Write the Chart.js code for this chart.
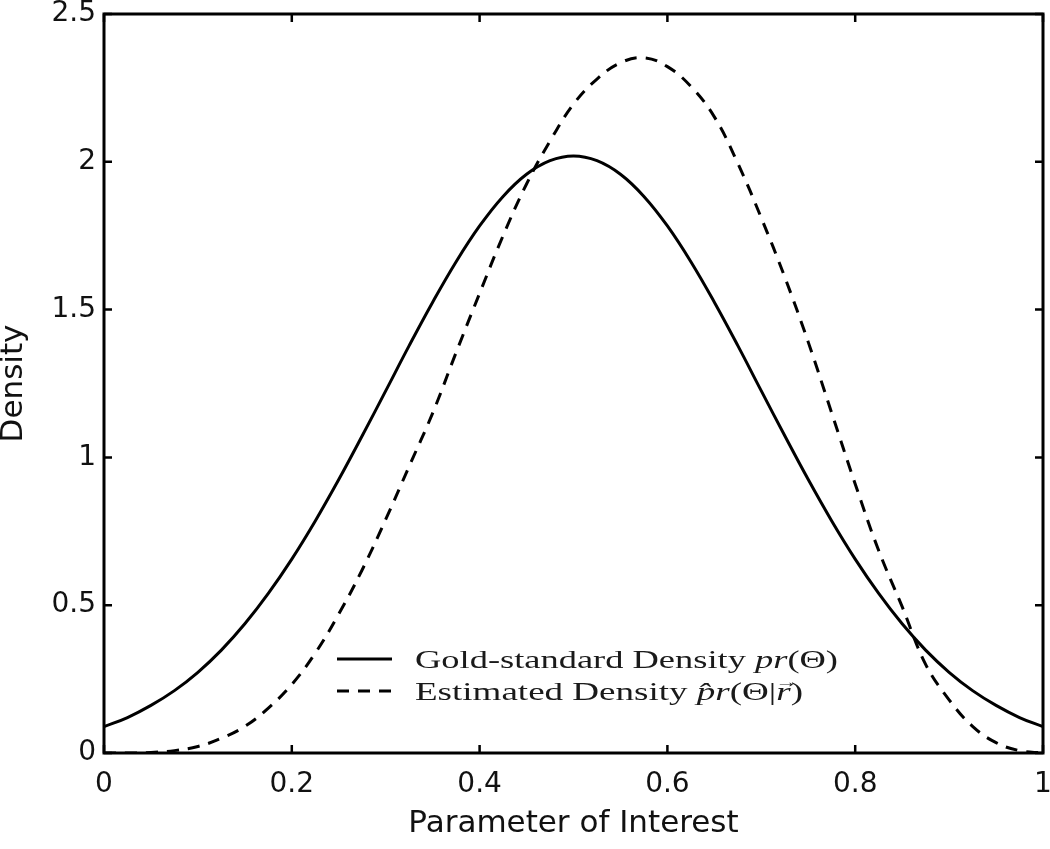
<!DOCTYPE html>
<html>
<head>
<meta charset="utf-8">
<script src="https://cdn.jsdelivr.net/npm/chart.js@4.4.0/dist/chart.umd.min.js"></script>
<style>
  body { margin: 0; background: #fff; }
  canvas { display: block; }
</style>
</head>
<body>
<canvas id="density-chart" width="1050" height="849"></canvas>
<script>
// parameter values (x) shared by both curves
const theta = [0, 0.025, 0.05, 0.075, 0.1, 0.125, 0.15, 0.175, 0.2, 0.225,
  0.25, 0.275, 0.3, 0.325, 0.35, 0.375, 0.4, 0.425, 0.45, 0.475,
  0.5, 0.525, 0.55, 0.575, 0.6, 0.625, 0.65, 0.675, 0.7, 0.725,
  0.75, 0.775, 0.8, 0.825, 0.85, 0.875, 0.9, 0.925, 0.95, 0.975, 1]

// gold-standard density pr(Θ), solid
const goldDensity = [0.089, 0.12, 0.161, 0.211, 0.273, 0.348, 0.437, 0.54, 0.656, 0.785,
  0.925, 1.073, 1.225, 1.378, 1.525, 1.662, 1.783, 1.883, 1.958, 2.004,
  2.02, 2.004, 1.958, 1.883, 1.783, 1.662, 1.525, 1.378, 1.225, 1.073,
  0.925, 0.785, 0.656, 0.54, 0.437, 0.348, 0.273, 0.211, 0.161, 0.12, 0.089]

// estimated density, dashed
const estDensity = [0, 0, 0.002, 0.008, 0.022, 0.05, 0.09, 0.152, 0.232, 0.338,
  0.47, 0.62, 0.79, 0.97, 1.15, 1.355, 1.555, 1.75, 1.925, 2.07,
  2.195, 2.28, 2.335, 2.352, 2.322, 2.255, 2.152, 1.995, 1.81, 1.61,
  1.39, 1.15, 0.91, 0.685, 0.495, 0.30, 0.18, 0.09, 0.035, 0.008, 0]

const xTicks = [0, 0.2, 0.4, 0.6, 0.8, 1]
const yTicks = [0, 0.5, 1, 1.5, 2, 2.5]

const xTitle = 'Parameter of Interest'
const yTitle = 'Density'

const sansFont = 'DejaVu Sans'
const serifFont = 'Liberation Serif'

// legend rows: [text, italic, accent drawn above]
const legendRows = [
  { dash: [], width: 423, parts: [['Gold-standard Density ', false], ['pr', true], ['(\u0398)', false]] },
  { dash: [12, 9], width: 388, parts: [['Estimated Density ', false], ['p\u0302r', true], ['(\u0398|', false], ['r', true, '\u2192'], [')', false]] }
]

const toPoints = (ys) => theta.map((x, i) => ({ x: x, y: ys[i] }))

// frame + inward ticks on all four sides
const framePlugin = {
  id: 'frame',
  afterDatasetsDraw(chart) {
    const ctx = chart.ctx
    const a = chart.chartArea
    const sx = chart.scales.x
    const sy = chart.scales.y
    const len = 8
    ctx.save()
    ctx.strokeStyle = '#000'
    ctx.lineWidth = 2.5
    ctx.setLineDash([])
    ctx.beginPath()
    xTicks.forEach(v => {
      const px = sx.getPixelForValue(v)
      ctx.moveTo(px, a.bottom); ctx.lineTo(px, a.bottom - len)
      ctx.moveTo(px, a.top); ctx.lineTo(px, a.top + len)
    })
    yTicks.forEach(v => {
      const py = sy.getPixelForValue(v)
      ctx.moveTo(a.left, py); ctx.lineTo(a.left + len, py)
      ctx.moveTo(a.right, py); ctx.lineTo(a.right - len, py)
    })
    ctx.stroke()
    ctx.lineWidth = 3
    ctx.strokeRect(a.left, a.top, a.right - a.left, a.bottom - a.top)
    ctx.restore()
  }
}

// LaTeX-like legend inside the plot
const legendPlugin = {
  id: 'texLegend',
  afterDatasetsDraw(chart) {
    const ctx = chart.ctx
    const rowsY = [659, 691]
    const fontOf = (it) => (it ? 'italic ' : '') + '25px "' + serifFont + '"'
    ctx.save()
    legendRows.forEach((row, r) => {
      const y = rowsY[r]
      ctx.strokeStyle = '#000'
      ctx.lineWidth = 3
      ctx.setLineDash(row.dash)
      ctx.beginPath()
      ctx.moveTo(337, y)
      ctx.lineTo(392, y)
      ctx.stroke()
      ctx.setLineDash([])

      let natural = 0
      row.parts.forEach(([t, it]) => {
        ctx.font = fontOf(it)
        natural += ctx.measureText(t).width
      })
      const scaleX = row.width / natural
      ctx.save()
      ctx.translate(415, y + 9)
      ctx.scale(scaleX, 1)
      ctx.fillStyle = '#1a1a1a'
      ctx.textBaseline = 'alphabetic'
      let cx = 0
      row.parts.forEach(([t, it, accent]) => {
        ctx.font = fontOf(it)
        const w = ctx.measureText(t).width
        ctx.fillText(t, cx, 0)
        if (accent) {
          ctx.font = '15px "' + serifFont + '"'
          ctx.textAlign = 'center'
          ctx.fillText(accent, cx + w / 2 + 2, -13)
          ctx.textAlign = 'left'
        }
        cx += w
      })
      ctx.restore()
    })
    ctx.restore()
  }
}

const chartData = {
  datasets: [
    {
      label: 'Gold-standard Density pr(\u0398)',
      data: toPoints(goldDensity),
      borderColor: '#000',
      borderWidth: 3,
      pointRadius: 0,
      tension: 0.4,
      fill: false
    },
    {
      label: 'Estimated Density p\u0302r(\u0398|r\u20D7)',
      data: toPoints(estDensity),
      borderColor: '#000',
      borderWidth: 3,
      borderDash: [12, 9],
      pointRadius: 0,
      tension: 0.4,
      fill: false
    }
  ]
}

const chartConfig = {
  type: 'line',
  data: chartData,
  options: {
    responsive: false,
    animation: false,
    layout: { padding: { top: 14, right: 7, left: 0, bottom: 0 } },
    plugins: {
      legend: { display: false },
      tooltip: { enabled: false }
    },
    scales: {
      x: {
        type: 'linear',
        min: 0,
        max: 1,
        afterBuildTicks: (scale) => { scale.ticks = xTicks.map(v => ({ value: v })) },
        afterFit: (scale) => {
          scale.height = 96
          scale.paddingLeft = 0; scale.paddingRight = 0
        },
        grid: { display: false, drawTicks: false },
        border: { display: false },
        ticks: {
          color: '#111',
          padding: 18,
          maxRotation: 0,
          autoSkip: false,
          callback: (v) => String(v),
          font: { family: sansFont, size: 28, lineHeight: 1 }
        },
        title: {
          display: true,
          text: xTitle,
          color: '#111',
          padding: { top: 0, bottom: 10 },
          font: { family: sansFont, size: 31, lineHeight: 1 }
        }
      },
      y: {
        type: 'linear',
        min: 0,
        max: 2.5,
        afterBuildTicks: (scale) => { scale.ticks = yTicks.map(v => ({ value: v })) },
        afterFit: (scale) => {
          scale.width = 104
          scale.paddingTop = 0; scale.paddingBottom = 0
        },
        grid: { display: false, drawTicks: false },
        border: { display: false },
        ticks: {
          color: '#111',
          padding: 8,
          autoSkip: false,
          callback: (v) => String(v),
          font: { family: sansFont, size: 28, lineHeight: 1 }
        },
        title: {
          display: true,
          text: yTitle,
          color: '#111',
          padding: { top: -2, bottom: 0 },
          font: { family: sansFont, size: 31, lineHeight: 1 }
        }
      }
    }
  },
  plugins: [framePlugin, legendPlugin]
}

const densityChart = new Chart(document.getElementById('density-chart'), chartConfig)
</script>
</body>
</html>
